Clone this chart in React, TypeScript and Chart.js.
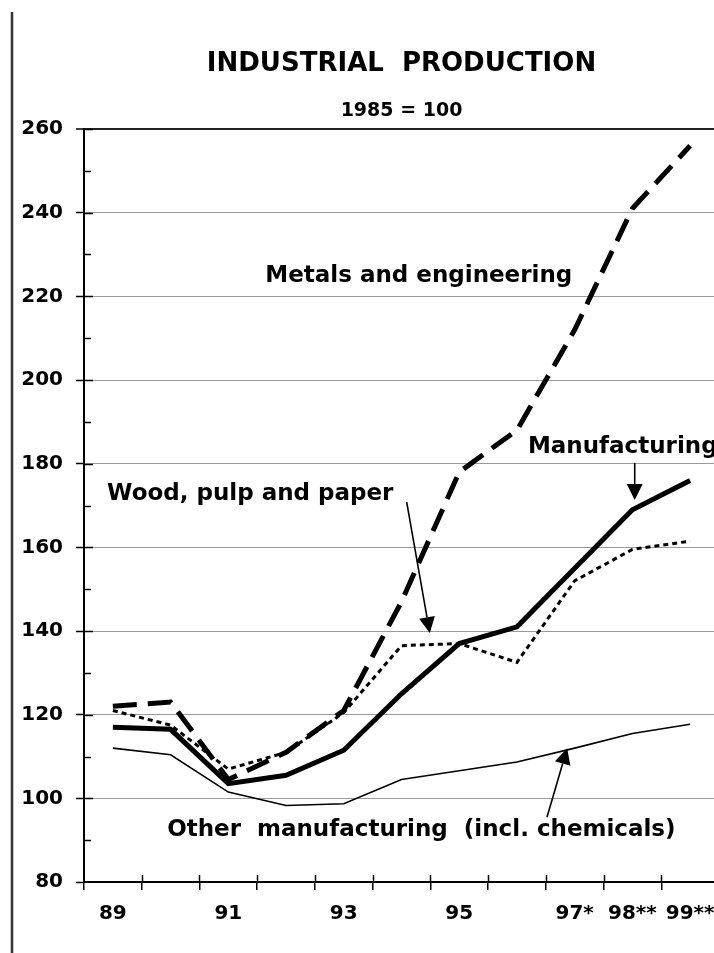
import React, { useEffect, useRef } from "react";
import { Chart, registerables } from "chart.js";

Chart.register(...registerables);

const years = ["89", "90", "91", "92", "93", "94", "95", "96", "97", "98", "99"];
const tickLabels = ["89", "", "91", "", "93", "", "95", "", "97*", "98**", "99**"];

const metals = [122, 123, 104.5, 111, 121, 147, 178, 188, 212, 241, 256];
const manufacturing = [117, 116.5, 103.5, 105.5, 111.5, 125, 137, 141, 155, 169, 176];
const wood = [121, 117.5, 107, 111, 120.5, 136.5, 137, 132.5, 152, 159.5, 161.5];
const other = [112, 110.4, 101.5, 98.3, 98.7, 104.5, 106.6, 108.7, 112, 115.5, 117.7];

const yMin = 80;
const yMax = 260;

// annotation texts in data coordinates (x = category index, y = value)
const labelTexts = [
  { text: "Metals and engineering", x: 5.3, y: 223.4, align: "center" },
  { text: "Manufacturing", x: 7.19, y: 182.6, align: "left" },
  { text: "Wood, pulp and paper", x: -0.1, y: 171.3, align: "left" },
  { text: "Other  manufacturing  (incl. chemicals)", x: 0.94, y: 91.0, align: "left" },
];

const arrows = [
  { x1: 9.04, y1: 180.2, x2: 9.04, y2: 171.3 },
  { x1: 5.09, y1: 170.8, x2: 5.49, y2: 139.5 },
  { x1: 7.52, y1: 95.5, x2: 7.87, y2: 112.0 },
];

const FONT = "'DejaVu Sans', 'Liberation Sans', Arial, sans-serif";

const decorPlugin = {
  id: "decor",
  afterDraw(chart: any) {
    const { ctx, chartArea } = chart;
    const xs = chart.scales.x;
    const ys = chart.scales.y;
    ctx.save();
    // left page border line
    ctx.strokeStyle = "#333";
    ctx.lineWidth = 2.5;
    ctx.beginPath();
    ctx.moveTo(12, 12);
    ctx.lineTo(12, chart.height);
    ctx.stroke();

    // inner ticks on y axis
    ctx.strokeStyle = "#000";
    ctx.lineWidth = 1.5;
    for (let v = yMin + 10; v <= yMax; v += 10) {
      const py = Math.round(ys.getPixelForValue(v)) + 0.5;
      const len = v % 20 === 0 ? 9 : 7;
      ctx.beginPath();
      ctx.moveTo(chartArea.left, py);
      ctx.lineTo(chartArea.left + len, py);
      ctx.stroke();
    }
    // inner ticks on x axis
    for (let i = 1; i <= years.length; i++) {
      const px = Math.round(xs.getPixelForValue(i - 0.5)) + 0.5;
      ctx.beginPath();
      ctx.moveTo(px, chartArea.bottom - 7);
      ctx.lineTo(px, chartArea.bottom);
      ctx.stroke();
    }

    // annotation texts
    ctx.fillStyle = "#000";
    ctx.font = "bold 23px " + FONT;
    ctx.textBaseline = "alphabetic";
    for (const t of labelTexts) {
      ctx.textAlign = t.align as CanvasTextAlign;
      ctx.fillText(t.text, xs.getPixelForValue(t.x), ys.getPixelForValue(t.y));
    }

    // arrows
    for (const a of arrows) {
      const x1 = xs.getPixelForValue(a.x1);
      const y1 = ys.getPixelForValue(a.y1);
      const x2 = xs.getPixelForValue(a.x2);
      const y2 = ys.getPixelForValue(a.y2);
      const ang = Math.atan2(y2 - y1, x2 - x1);
      const hl = 16;
      const hw = 8;
      const bx = x2 - hl * Math.cos(ang);
      const by = y2 - hl * Math.sin(ang);
      ctx.lineWidth = 1.6;
      ctx.beginPath();
      ctx.moveTo(x1, y1);
      ctx.lineTo(bx, by);
      ctx.stroke();
      ctx.beginPath();
      ctx.moveTo(x2, y2);
      ctx.lineTo(bx + hw * Math.sin(ang), by - hw * Math.cos(ang));
      ctx.lineTo(bx - hw * Math.sin(ang), by + hw * Math.cos(ang));
      ctx.closePath();
      ctx.fill();
    }
    ctx.restore();
  },
};

export default function App() {
  const ref = useRef<HTMLCanvasElement | null>(null);

  useEffect(() => {
    if (!ref.current) return;
    Chart.defaults.font.family = FONT;
    Chart.defaults.color = "#000";
    const chart = new Chart(ref.current, {
      type: "line",
      data: {
        labels: years,
        datasets: [
          {
            label: "Metals and engineering",
            data: metals,
            borderColor: "#000",
            borderWidth: 5,
            borderDash: [24, 11],
            pointRadius: 0,
            tension: 0,
            fill: false,
          },
          {
            label: "Manufacturing",
            data: manufacturing,
            borderColor: "#000",
            borderWidth: 5,
            pointRadius: 0,
            tension: 0,
            fill: false,
          },
          {
            label: "Wood, pulp and paper",
            data: wood,
            borderColor: "#000",
            borderWidth: 3,
            borderDash: [5, 4],
            pointRadius: 0,
            tension: 0,
            fill: false,
          },
          {
            label: "Other manufacturing (incl. chemicals)",
            data: other,
            borderColor: "#000",
            borderWidth: 1.6,
            pointRadius: 0,
            tension: 0,
            fill: false,
          },
        ],
      },
      options: {
        animation: false,
        responsive: false,
        maintainAspectRatio: false,
        devicePixelRatio: 1,
        layout: { padding: 0 },
        plugins: {
          legend: { display: false },
          tooltip: { enabled: false },
          title: {
            display: true,
            text: "INDUSTRIAL  PRODUCTION",
            fullSize: false,
            color: "#000",
            font: { size: 26, weight: "bold", family: FONT },
            padding: { top: 49, bottom: 8 },
          },
          subtitle: {
            display: true,
            text: "1985 = 100",
            fullSize: false,
            color: "#000",
            font: { size: 19, weight: "bold", family: FONT },
            padding: { top: 11, bottom: 7 },
          },
        },
        scales: {
          x: {
            type: "category",
            offset: true,
            grid: {
              offset: true,
              drawOnChartArea: false,
              drawTicks: true,
              tickLength: 8,
              color: "#000",
              lineWidth: 1.5,
            },
            border: { display: true, color: "#000", width: 2 },
            ticks: {
              autoSkip: false,
              maxRotation: 0,
              minRotation: 0,
              padding: 12,
              color: "#000",
              font: { size: 20, weight: "bold", family: FONT },
              callback: (_v: any, i: number) => tickLabels[i],
            },
            afterFit: (s: any) => {
              s.height = 71;
              s.paddingLeft = 0;
              s.paddingRight = 0;
            },
          },
          y: {
            min: yMin,
            max: yMax,
            grid: {
              drawTicks: true,
              tickLength: 8,
              color: (c: any) => {
                const v = c.tick ? c.tick.value : 0;
                if (v === yMax) return "#222";
                if (v === yMin) return "#000";
                return v % 20 === 0 ? "#9a9a9a" : "rgba(0,0,0,0)";
              },
              tickColor: (c: any) => {
                const v = c.tick ? c.tick.value : 0;
                return v % 20 === 0 ? "#000" : "rgba(0,0,0,0)";
              },
              lineWidth: (c: any) => {
                const v = c.tick ? c.tick.value : 0;
                return v === yMax ? 2 : 1;
              },
              tickWidth: 1.5,
            },
            border: { display: true, color: "#000", width: 2 },
            ticks: {
              stepSize: 10,
              padding: 13,
              color: "#000",
              font: { size: 20, weight: "bold", family: FONT },
              callback: (v: any) => (Number(v) % 20 === 0 ? String(v) : ""),
            },
            afterFit: (s: any) => {
              s.width = 84;
              s.paddingTop = 0;
              s.paddingBottom = 0;
            },
          },
        },
      },
      plugins: [decorPlugin],
    } as any);
    return () => chart.destroy();
  }, []);

  return (
    <div
      style={{
        position: "absolute",
        left: 0,
        top: 0,
        width: 714,
        height: 953,
        overflow: "hidden",
        background: "#fff",
      }}
    >
      <canvas
        ref={ref}
        width={719}
        height={953}
        style={{ display: "block", width: 719, height: 953 }}
      />
    </div>
  );
}
